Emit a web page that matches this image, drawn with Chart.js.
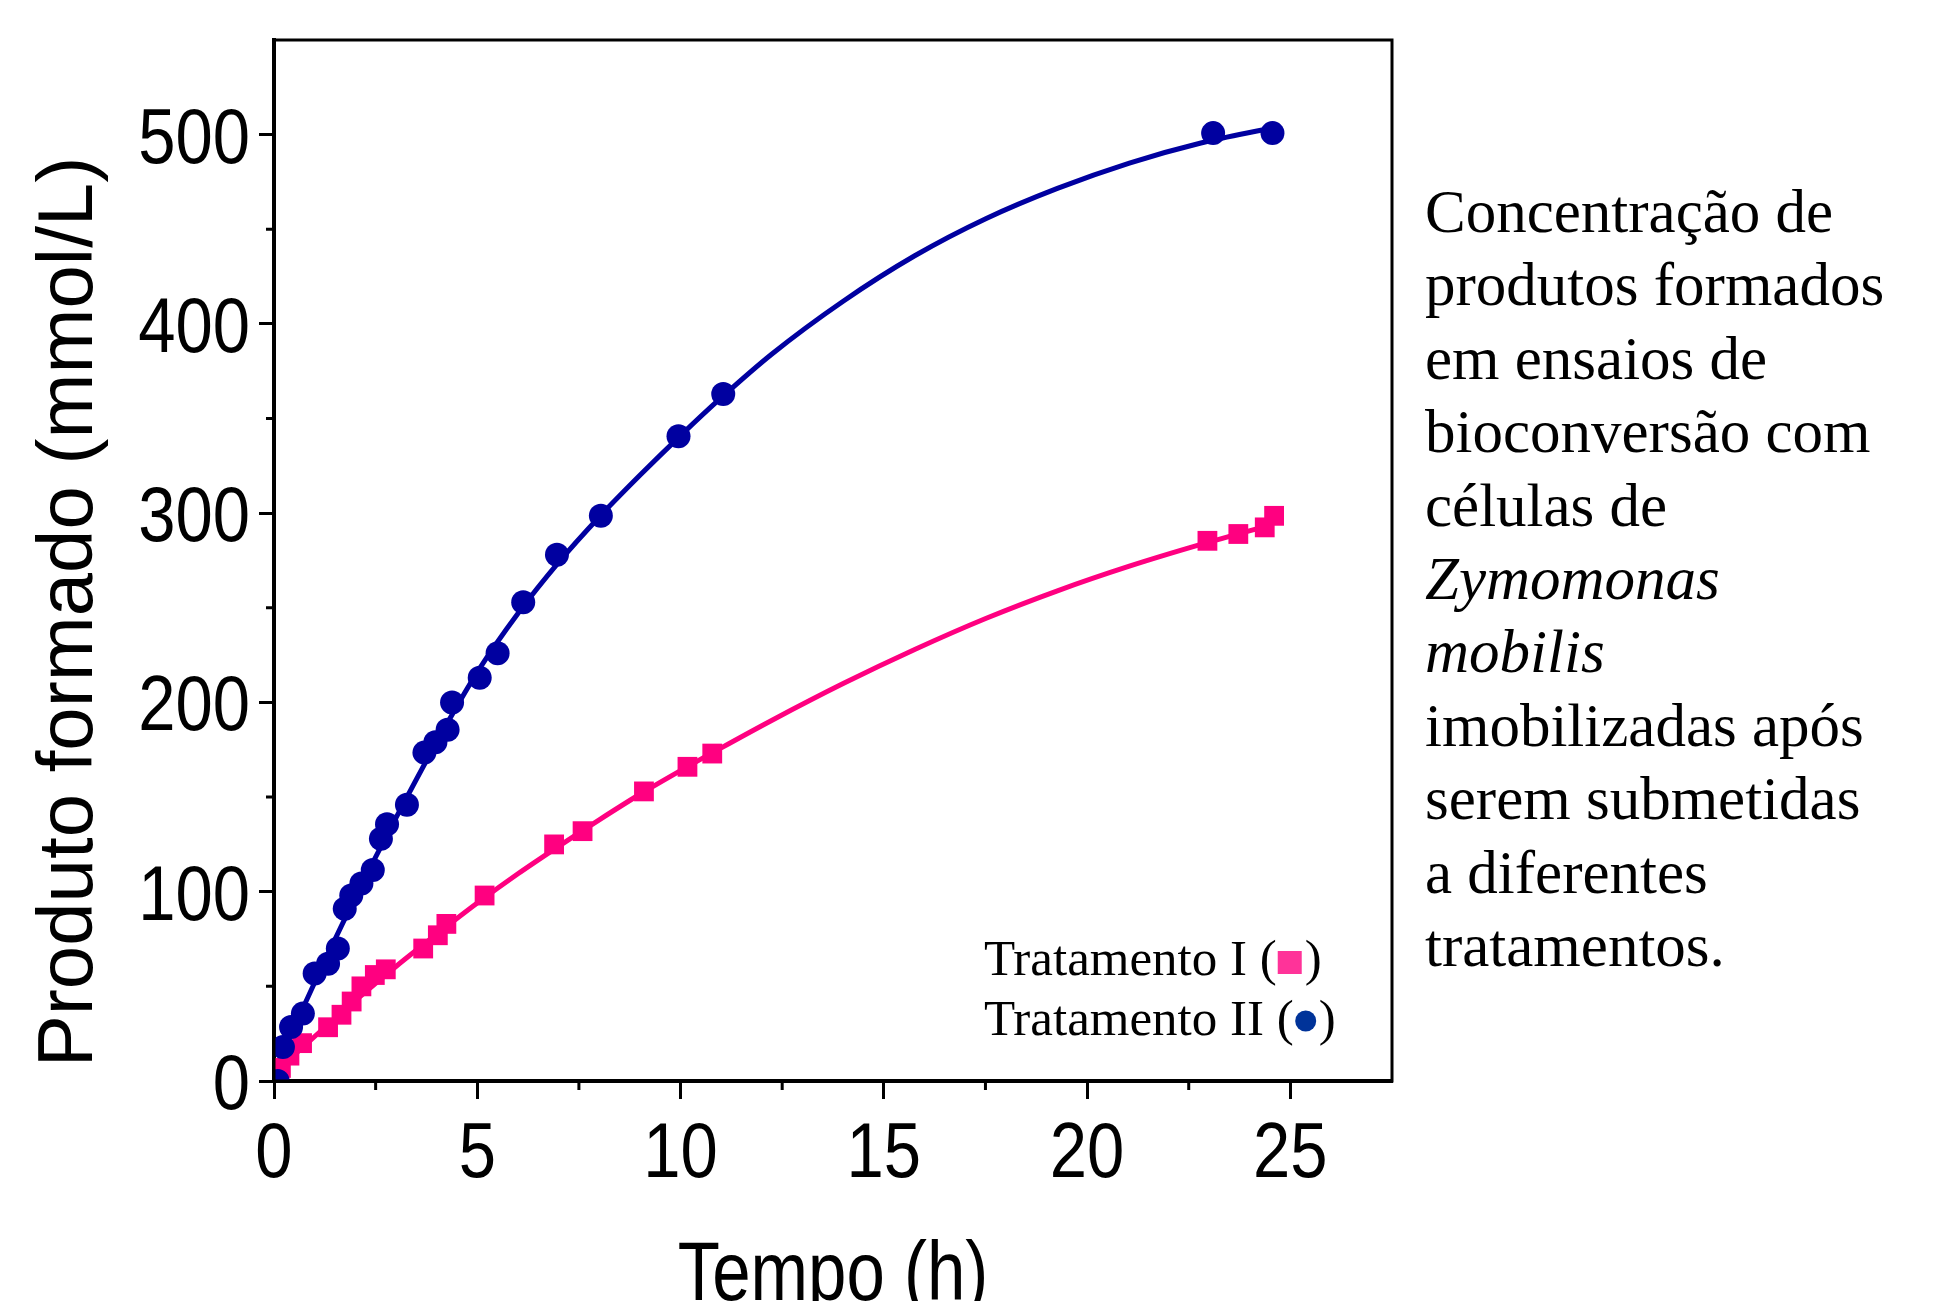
<!DOCTYPE html><html>
<meta charset="UTF-8">
<script src="https://cdn.jsdelivr.net/npm/chart.js@4/dist/chart.umd.min.js"></script>
<style>
html,body{margin:0;padding:0;background:#fff;overflow:hidden}
#quadro{position:relative;width:1935px;height:1301px;overflow:hidden;background:#fff}
#texto{position:absolute;left:1425px;top:175px;font:61px/73.4px "Liberation Serif","Times New Roman",serif;color:#000;white-space:nowrap}
</style>
<div id="quadro"><canvas id="grafico" width="1935" height="1301"></canvas>
<div id="texto">Concentração de<br>produtos formados<br>em ensaios de<br>bioconversão com<br>células de<br><i>Zymomonas</i><br><i>mobilis</i><br>imobilizadas após<br>serem submetidas<br>a diferentes<br>tratamentos.</div></div>
<script>
// Tratamento I (quadrados rosa)
var tempoI =   [0.17, 0.38, 0.69, 1.33, 1.66, 1.91, 2.15, 2.48, 2.75, 3.67, 4.03, 4.24, 5.18, 6.89, 7.59, 9.1, 10.17, 10.78, 22.96, 23.72, 24.37, 24.6];
var produtoI = [6.9, 13.4, 20, 28.4, 35, 42, 50, 56, 59, 70, 77, 83, 98, 125, 132, 153, 166, 173, 285.4, 289, 292.5, 298.6];
// Tratamento II (círculos azuis)
var tempoII =   [0.09, 0.22, 0.42, 0.71, 1.0, 1.33, 1.57, 1.74, 1.9, 2.15, 2.43, 2.63, 2.78, 3.27, 3.7, 3.97, 4.27, 4.38, 5.06, 5.5, 6.13, 6.96, 8.04, 9.95, 11.05, 23.1, 24.56];
var produtoII = [0, 17.9, 28.5, 35.6, 56.8, 62, 70, 91, 98, 104.4, 111.5, 128, 135.6, 146, 173.5, 179, 185.6, 200, 213, 226, 253, 278, 298.6, 340.7, 363, 500.8, 500.8];
// curvas ajustadas
var tempoAjuste = [0, 1, 2, 3, 4, 5, 6, 7, 8, 9, 10, 11, 12.24, 14, 15.76, 17.52, 19.27, 21.04, 22.8, 24.55];
var ajusteI =     [4, 23.5, 42.5, 60.5, 77.5, 94, 109.5, 124, 138, 151.5, 164, 176, 190.5, 210, 228, 244.5, 259, 272, 283.5, 294];
var ajusteII =    [5, 52, 97, 139, 179, 216, 247, 274, 298, 320, 341, 361, 384, 412, 436, 455.7, 471.6, 485, 495.6, 503.5];

var ticksX = [0, 5, 10, 15, 20, 25];
var ticksY = [0, 100, 200, 300, 400, 500];
var menoresX = [2.5, 7.5, 12.5, 17.5, 22.5];
var menoresY = [50, 150, 250, 350, 450];
var rotuloX = 'Tempo (h)';
var rotuloY = 'Produto formado (mmol/L)';
var legenda = ['Tratamento I (', 'Tratamento II ('];

var rosa = '#ff0080', azul = '#0000a0';
var sans = '"Liberation Sans", Arial, sans-serif';

function pares(xs, ys) {
  return xs.map(function (x, i) { return {x: x, y: ys[i]}; });
}

// texto esticado na vertical, como no original
function esticado(ctx, txt, x, y, esc) {
  ctx.save();
  ctx.translate(x, y);
  ctx.scale(1, esc);
  ctx.fillText(txt, 0, 0);
  ctx.restore();
}

var extras = {
  id: 'extras',
  afterDraw: function (chart) {
    var ctx = chart.ctx, a = chart.chartArea, sx = chart.scales.x, sy = chart.scales.y;
    ctx.save();
    ctx.strokeStyle = '#000';
    ctx.lineWidth = 3;
    ctx.beginPath();
    menoresX.forEach(function (v) {
      var p = sx.getPixelForValue(v);
      ctx.moveTo(p, a.bottom); ctx.lineTo(p, a.bottom + 9);
    });
    menoresY.forEach(function (v) {
      var p = sy.getPixelForValue(v);
      ctx.moveTo(a.left, p); ctx.lineTo(a.left - 8, p);
    });
    ctx.stroke();
    ctx.strokeRect(a.left, a.top, a.right - a.left, a.bottom - a.top);

    // rotulos das marcas
    ctx.fillStyle = '#000';
    ctx.textBaseline = 'alphabetic';
    ctx.font = '67px ' + sans;
    ctx.textAlign = 'center';
    ticksX.forEach(function (v) {
      esticado(ctx, String(v), sx.getPixelForValue(v), 1177, 1.17);
    });
    ctx.textAlign = 'right';
    ticksY.forEach(function (v) {
      esticado(ctx, String(v), 250, sy.getPixelForValue(v) + 28, 1.17);
    });

    // titulos dos eixos
    ctx.textAlign = 'center';
    ctx.font = '69px ' + sans;
    esticado(ctx, rotuloX, (a.left + a.right) / 2, 1300, 1.22);
    ctx.save();
    ctx.translate(92, 612);
    ctx.rotate(-Math.PI / 2);
    ctx.font = '78px ' + sans;
    ctx.fillText(rotuloY, 0, 0);
    ctx.restore();

    // legenda
    ctx.textAlign = 'left';
    ctx.font = '51px "Liberation Serif", "Times New Roman", serif';
    var x0 = 984, b1 = 975, b2 = 1035;
    ctx.fillText(legenda[0], x0, b1);
    var f1 = x0 + ctx.measureText(legenda[0]).width;
    ctx.fillStyle = '#ff3399';
    ctx.fillRect(f1 + 1, b1 - 24, 24, 23);
    ctx.fillStyle = '#000';
    ctx.fillText(')', f1 + 28, b1);
    ctx.fillText(legenda[1], x0, b2);
    var f2 = x0 + ctx.measureText(legenda[1]).width;
    ctx.fillStyle = '#003399';
    ctx.beginPath();
    ctx.arc(f2 + 12, b2 - 14, 10.5, 0, Math.PI * 2);
    ctx.fill();
    ctx.fillStyle = '#000';
    ctx.fillText(')', f2 + 25, b2);
    ctx.restore();
  }
};

new Chart(document.getElementById('grafico'), {
  type: 'scatter',
  data: {
    datasets: [
      {label: 'Tratamento II', data: pares(tempoII, produtoII), pointStyle: 'circle', pointRadius: 12,
       backgroundColor: azul, borderColor: azul, borderWidth: 0, showLine: false, order: 0},
      {label: 'Tratamento I', data: pares(tempoI, produtoI), pointStyle: 'rect', pointRadius: 14,
       backgroundColor: rosa, borderColor: rosa, borderWidth: 0, showLine: false, order: 1},
      {label: 'Ajuste II', type: 'line', data: pares(tempoAjuste, ajusteII), borderColor: azul, borderWidth: 5,
       pointRadius: 0, fill: false, cubicInterpolationMode: 'monotone', order: 2},
      {label: 'Ajuste I', type: 'line', data: pares(tempoAjuste, ajusteI), borderColor: rosa, borderWidth: 5,
       pointRadius: 0, fill: false, cubicInterpolationMode: 'monotone', order: 3}
    ]
  },
  options: {
    responsive: false,
    animation: false,
    devicePixelRatio: 1,
    layout: {padding: {left: 0, top: 40, right: 543, bottom: 0}},
    plugins: {legend: {display: false}, tooltip: {enabled: false}},
    scales: {
      x: {
        type: 'linear', min: 0, max: 27.5,
        afterFit: function (s) { s.height = 220; s.paddingLeft = 0; s.paddingRight = 0; },
        afterBuildTicks: function (s) { s.ticks = ticksX.map(function (v) { return {value: v}; }); },
        grid: {drawOnChartArea: false, drawTicks: true, tickLength: 18, tickWidth: 3, tickColor: '#000'},
        border: {display: true, width: 4, color: '#000'},
        ticks: {display: false}
      },
      y: {
        type: 'linear', min: 0, max: 550,
        afterFit: function (s) { s.width = 274; s.paddingTop = 0; s.paddingBottom = 0; },
        afterBuildTicks: function (s) { s.ticks = ticksY.map(function (v) { return {value: v}; }); },
        grid: {drawOnChartArea: false, drawTicks: true, tickLength: 15, tickWidth: 3, tickColor: '#000'},
        border: {display: true, width: 4, color: '#000'},
        ticks: {display: false}
      }
    }
  },
  plugins: [extras]
});
</script>
</html>
